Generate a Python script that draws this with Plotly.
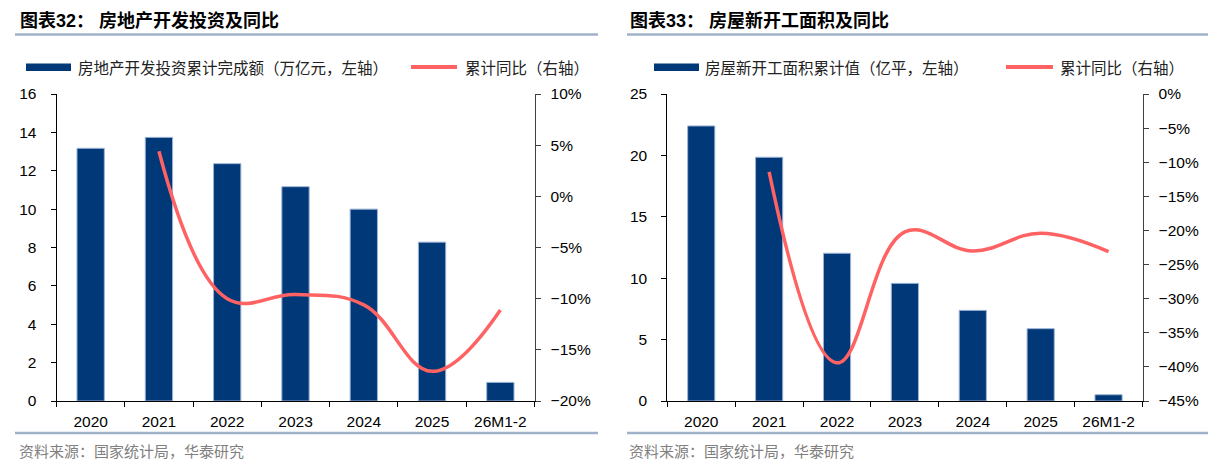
import plotly.graph_objects as go
from plotly.subplots import make_subplots

# ---------------- data ----------------
categories = ["2020", "2021", "2022", "2023", "2024", "2025", "26M1-2"]

# Chart 32: real-estate development investment (trillion yuan) and YoY (%)
invest_value = [13.17, 13.74, 12.37, 11.17, 10.00, 8.28, 0.97]
invest_yoy = [None, 4.4, -10.0, -9.6, -10.6, -17.1, -11.1]

# Chart 33: new construction area (100 million m2) and YoY (%)
newstart_value = [22.4, 19.85, 12.03, 9.58, 7.38, 5.89, 0.51]
newstart_yoy = [None, -11.4, -39.4, -20.2, -23.0, -20.4, -23.1]

left_titles = ["图表32： 房地产开发投资及同比", "图表33： 房屋新开工面积及同比"]
bar_names = ["房地产开发投资累计完成额（万亿元，左轴）", "房屋新开工面积累计值（亿平，左轴）"]
line_name = "累计同比（右轴）"
source_text = "资料来源：国家统计局，华泰研究"

# ---------------- style ----------------
W, H = 1222, 461
BAR_COLOR = "#003878"
BAR_EDGE = "#9DB4D4"
LINE_COLOR = "#FF6262"
RULE_COLOR = "#9FB2CA"
FONT = "Liberation Sans, Arial, Noto Sans CJK SC"
CJK = "Noto Sans CJK SC, Liberation Sans"


def px_x(p):
    return p / W


def px_y(p):
    return 1 - p / H


fig = make_subplots(rows=1, cols=2, specs=[[{"secondary_y": True}, {"secondary_y": True}]])

panels = [
    dict(col=1, bars=invest_value, yoy=invest_yoy, yr=[0, 16], ydt=2, y2r=[-20, 10], y2dt=5,
         xdom=[56.5, 534.5]),
    dict(col=2, bars=newstart_value, yoy=newstart_yoy, yr=[0, 25], ydt=5, y2r=[-45, 0], y2dt=5,
         xdom=[667.3, 1142.5]),
]

for p in panels:
    fig.add_trace(go.Bar(x=categories, y=p["bars"], width=0.4, marker_color=BAR_COLOR,
                         marker_line_color=BAR_EDGE, marker_line_width=1, showlegend=False),
                  row=1, col=p["col"], secondary_y=False)
    fig.add_trace(go.Scatter(x=categories, y=p["yoy"], mode="lines",
                             line=dict(color=LINE_COLOR, width=3.5, shape="spline", smoothing=1.15),
                             connectgaps=False, showlegend=False),
                  row=1, col=p["col"], secondary_y=True)

ydom = [1 - 401 / H, 1 - 94 / H]
tickfont = dict(family=FONT, size=15.5, color="#000000")

axis_map = [("xaxis", "yaxis", "yaxis2"), ("xaxis2", "yaxis3", "yaxis4")]
for p, (xa, ya, ya2) in zip(panels, axis_map):
    fig.layout[xa].update(domain=[px_x(p["xdom"][0]), px_x(p["xdom"][1])], type="category",
                          range=[-0.5, 6.5], showline=True, linecolor="#000000", linewidth=1,
                          ticks="outside", tickson="boundaries", ticklen=5, tickcolor="#000000",
                          tickfont=tickfont, showgrid=False, zeroline=False, ticklabelstandoff=6,
                          automargin=False)
    fig.layout[ya].update(domain=ydom, range=p["yr"], dtick=p["ydt"], showline=True,
                          linecolor="#000000", linewidth=1, ticks="outside", ticklen=5,
                          tickcolor="#000000", tickfont=tickfont, showgrid=False, zeroline=False,
                          ticklabelstandoff=11, automargin=False)
    fig.layout[ya2].update(domain=ydom, range=p["y2r"], dtick=p["y2dt"], showline=True,
                           linecolor="#404040", linewidth=1, ticks="outside", ticklen=5,
                           tickcolor="#404040", tickfont=tickfont, ticksuffix="%",
                           showgrid=False, zeroline=False, ticklabelstandoff=7, automargin=False)

shapes = []
annotations = []

panel_px = [
    dict(x0=15, x1=598, title_x=18, leg_rect=(26, 71), leg_text=76, leg_line=(411, 457), leg_text2=463),
    dict(x0=627, x1=1208, title_x=628, leg_rect=(654, 699), leg_text=703, leg_line=(1006, 1053), leg_text2=1058),
]

for i, pp in enumerate(panel_px):
    # horizontal rules
    for yy in (34.5, 433):
        shapes.append(dict(type="line", xref="paper", yref="paper", x0=px_x(pp["x0"]), x1=px_x(pp["x1"]),
                           y0=px_y(yy), y1=px_y(yy), line=dict(color=RULE_COLOR, width=2.5)))
    # title
    annotations.append(dict(text="<b>" + left_titles[i] + "</b>", xref="paper", yref="paper",
                            x=px_x(pp["title_x"]), y=px_y(21), xanchor="left", yanchor="middle",
                            showarrow=False, font=dict(family=FONT, size=18, color="#000000")))
    # source
    annotations.append(dict(text=source_text, xref="paper", yref="paper",
                            x=px_x(pp["title_x"] - 1), y=px_y(450), xanchor="left", yanchor="middle",
                            showarrow=False, font=dict(family=CJK, size=15, color="#808080")))
    # legend: bar
    shapes.append(dict(type="rect", xref="paper", yref="paper", x0=px_x(pp["leg_rect"][0]),
                       x1=px_x(pp["leg_rect"][1]), y0=px_y(71), y1=px_y(63.5),
                       fillcolor=BAR_COLOR, line=dict(width=0)))
    annotations.append(dict(text=bar_names[i], xref="paper", yref="paper", x=px_x(pp["leg_text"]),
                            y=px_y(67), xanchor="left", yanchor="middle", showarrow=False,
                            font=dict(family=CJK, size=15.5, color="#222222")))
    # legend: line
    shapes.append(dict(type="line", xref="paper", yref="paper", x0=px_x(pp["leg_line"][0]),
                       x1=px_x(pp["leg_line"][1]), y0=px_y(67), y1=px_y(67),
                       line=dict(color=LINE_COLOR, width=4)))
    annotations.append(dict(text=line_name, xref="paper", yref="paper", x=px_x(pp["leg_text2"]),
                            y=px_y(67), xanchor="left", yanchor="middle", showarrow=False,
                            font=dict(family=CJK, size=15.5, color="#222222")))

fig.update_layout(width=W, height=H, margin=dict(l=0, r=0, t=0, b=0, pad=0, autoexpand=False),
                  paper_bgcolor="#FFFFFF", plot_bgcolor="#FFFFFF", showlegend=False,
                  bargap=0.6, shapes=shapes, annotations=annotations,
                  font=dict(family=FONT, color="#000000"))

fig.write_html(
    "out.html",
    config={"displayModeBar": False, "staticPlot": True},
    post_script=(
        "document.documentElement.style.margin='0';"
        "document.documentElement.style.overflow='hidden';"
        "document.body.style.margin='0';document.body.style.padding='0';"
        "document.body.style.overflow='hidden';"
    ),
)
